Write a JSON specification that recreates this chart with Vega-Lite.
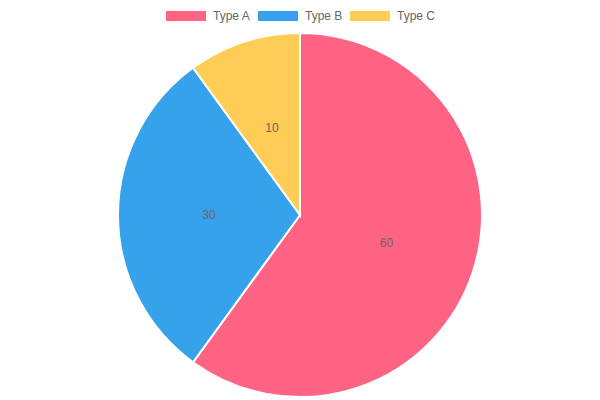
{
  "$schema": "https://vega.github.io/schema/vega-lite/v6.json",
  "width": 600,
  "height": 370,
  "autosize": {"type": "none"},
  "padding": {"left": 0, "right": 0, "top": 30, "bottom": 0},
  "background": "#ffffff",
  "data": {"values": [
    {"type": "Type A", "value": 60},
    {"type": "Type B", "value": 30},
    {"type": "Type C", "value": 10}
  ]},
  "encoding": {
    "theta": {"field": "value", "type": "quantitative", "stack": true},
    "order": {"field": "type", "type": "nominal", "sort": "ascending"}
  },
  "layer": [
    {
      "mark": {"type": "arc", "outerRadius": 182, "stroke": "#ffffff", "strokeWidth": 2},
      "encoding": {
        "color": {
          "field": "type",
          "type": "nominal",
          "scale": {"domain": ["Type A", "Type B", "Type C"], "range": ["#ff6384", "#36a2eb", "#ffcd56"]},
          "legend": {
            "title": null,
            "orient": "none",
            "direction": "horizontal",
            "legendX": 166,
            "legendY": -34,
            "padding": 0,
            "symbolType": "M-1,-0.25H1V0.25H-1Z",
            "symbolSize": 1600,
            "symbolStrokeWidth": 0,
            "symbolOpacity": 1,
            "labelOffset": 7,
            "columnPadding": 7,
            "labelFont": "Liberation Sans",
            "labelFontSize": 12,
            "labelColor": "#666666"
          }
        }
      }
    },
    {
      "mark": {"type": "text", "radius": 91, "fontSize": 12, "color": "#666666", "font": "Liberation Sans", "baseline": "middle", "align": "center"},
      "encoding": {
        "text": {"field": "value", "type": "quantitative"},
        "detail": {"field": "type", "type": "nominal"}
      }
    }
  ],
  "config": {"view": {"stroke": null}}
}
